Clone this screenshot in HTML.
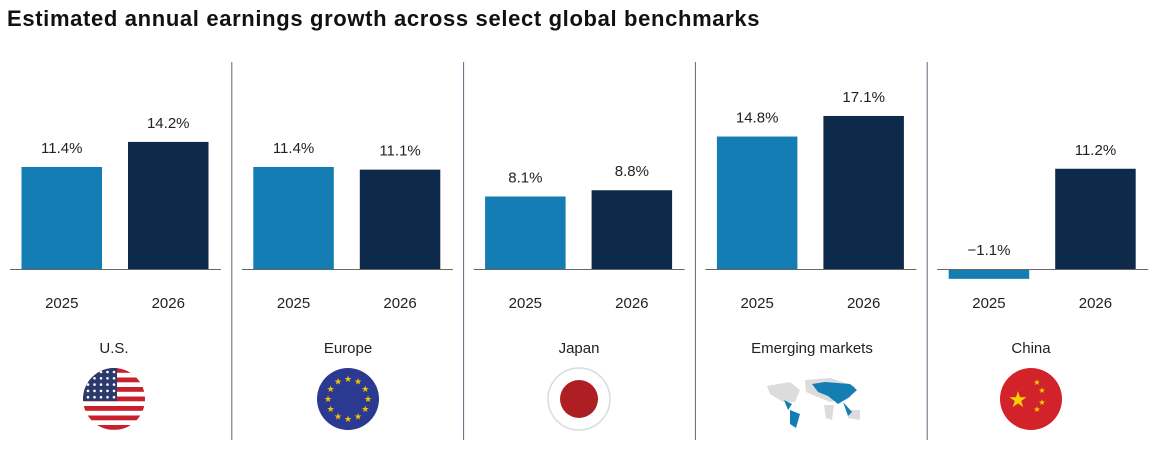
<!DOCTYPE html>
<html><head><meta charset="utf-8"><style>
body{margin:0;background:#fff;font-family:"Liberation Sans",sans-serif}
#wrap{position:relative;width:1158px;height:466px;overflow:hidden}
h1{position:absolute;left:7px;top:6px;margin:0;font-size:22px;font-weight:bold;color:#111;letter-spacing:0.65px}
</style></head><body>
<div id="wrap">
<h1>Estimated annual earnings growth across select global benchmarks</h1>
<svg id="svg" width="1158" height="466" style="position:absolute;left:0;top:0"></svg>
</div>
<script>
const regions=["U.S.","Europe","Japan","Emerging markets","China"];
const years=["2025","2026"];
const v2025=[11.4,11.4,8.1,14.8,-1.1];
const v2026=[14.2,11.1,8.8,17.1,11.2];
const labels2025=["11.4%","11.4%","8.1%","14.8%","\u22121.1%"];
const labels2026=["14.2%","11.1%","8.8%","17.1%","11.2%"];
const svg=document.getElementById('svg');
const NS='http://www.w3.org/2000/svg';
const base=269, pxPer=8.95, panelW=231.8;
function y(v){return base-v*pxPer;}
function px(i){return i*panelW;}
function mk(t,a,txt){const e=document.createElementNS(NS,t);for(const k in a)e.setAttribute(k,a[k]);if(txt!==undefined)e.textContent=txt;svg.appendChild(e);return e;}
const colors=["#147db3","#0d2a4a"];
regions.forEach((r,i)=>{
  const p=px(i);
  if(i>0){const d=mk('line',{x1:p,x2:p,y1:62,y2:440,stroke:'#5a6b7b','stroke-width':1});
  
  }
  [v2025[i],v2026[i]].forEach((v,j)=>{
    const x=p+21.5+j*106.5, w=80.5;
    const b=mk('rect',{x:x,y:Math.min(y(v),base),width:w,height:Math.abs(y(v)-base),fill:colors[j]});
    
    
    const lbl=j?labels2026[i]:labels2025[i];
    const ly=(v>=0?y(v):base)-14;
    const t=mk('text',{x:x+w/2,y:ly,'text-anchor':'middle','font-size':15,fill:'#222'},lbl);
    
    
    const yl=mk('text',{x:x+w/2,y:308,'text-anchor':'middle','font-size':15,fill:'#222'},years[j]);
    
    
  });
  const bl=mk('line',{x1:p+10,x2:p+221,y1:base+0.5,y2:base+0.5,stroke:'#666','stroke-width':1});
  
  
  const cx=[114,348,579,812,1031][i];
  const rn=mk('text',{x:cx,y:353,'text-anchor':'middle','font-size':15,fill:'#222'},r);
  
  
});
const fy=399,R=31;
let s='<defs><clipPath id="c1"><circle cx="114" cy="'+fy+'" r="'+R+'"/></clipPath></defs>';
s+='<g clip-path="url(#c1)"><rect x="83" y="368" width="62" height="62" fill="#fff"/>';
for(let k=0;k<7;k++)s+='<rect x="83" y="'+(368+k*9.5)+'" width="62" height="4.8" fill="#c8202c"/>';
s+='<rect x="83" y="368" width="34" height="33" fill="#2b3a6b"/>';
for(let a=0;a<5;a++)for(let b=0;b<5;b++)s+='<circle cx="'+(88+b*6.5)+'" cy="'+(372+a*6.3)+'" r="1.3" fill="#fff"/>';
s+='</g>';
s+='<g><circle cx="348" cy="'+fy+'" r="'+R+'" fill="#2b3990"/>';
for(let k=0;k<12;k++){const a=k*Math.PI/6;s+='<text x="'+(348+20*Math.sin(a))+'" y="'+(fy-20*Math.cos(a)+3)+'" text-anchor="middle" font-size="9" fill="#f5c400">★</text>';}
s+='</g>';
s+='<g><circle cx="579" cy="'+fy+'" r="'+R+'" fill="#fff" stroke="#d5dde2" stroke-width="1.5"/><circle cx="579" cy="'+fy+'" r="19" fill="#ad1f23"/></g>';
s+='<g><path d="M767 386 L790 382 L800 390 L795 402 L783 402 L770 394Z M805 380 L830 378 L855 386 L850 398 L830 402 L815 396 L806 392Z M824 405 L834 405 L832 420 L826 418Z M850 410 L860 410 L860 420 L848 418Z" fill="#dcdcdc"/><path d="M812 384 L825 382 L850 384 L857 390 L848 398 L838 404 L828 396 L818 392Z M784 400 L792 404 L788 410Z M790 410 L800 414 L796 428 L790 424Z M843 402 L852 412 L848 416Z" fill="#147db3"/></g>';
s+='<g><circle cx="1031" cy="'+fy+'" r="'+R+'" fill="#d2232a"/><text x="1018" y="407" text-anchor="middle" font-size="22" fill="#f8d000">★</text>';
[[1037,385],[1042,393],[1042,405],[1037,412]].forEach(q=>s+='<text x="'+q[0]+'" y="'+q[1]+'" text-anchor="middle" font-size="8" fill="#f8d000">★</text>');
s+='</g>';
svg.insertAdjacentHTML('beforeend',s);
</script>
</body></html>
